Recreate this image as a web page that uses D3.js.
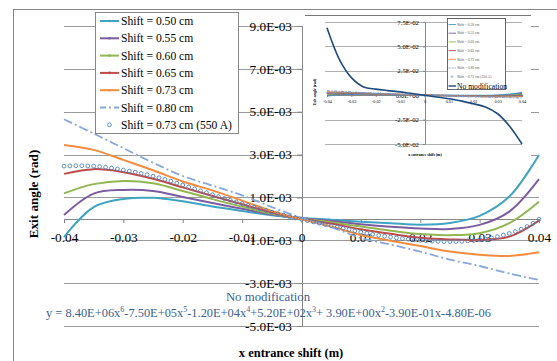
<!DOCTYPE html>
<html><head><meta charset="utf-8">
<script src="https://cdn.jsdelivr.net/npm/d3@7"></script>
<style>body{margin:0;background:#fff}svg{display:block;font-family:"Liberation Serif","Times New Roman",serif}</style>
</head><body><svg id="c" width="557" height="361"></svg>
<script>
// ---------- data (main chart values in units of 1E-03 rad) ----------
const unit = 1e-3;
const xValues = [-0.04,-0.035,-0.03,-0.025,-0.02,-0.015,-0.01,-0.005,0,0.005,0.01,0.015,0.02,0.025,0.03,0.035,0.04];
const shift050 = [-0.85,0.55,0.93,0.98,0.82,0.58,0.37,0.17,0.04,-0.04,-0.13,-0.2,-0.27,-0.19,0.14,1.04,2.98];
const shift055 = [0.18,1.18,1.35,1.3,1.02,0.74,0.47,0.2,0.03,-0.1,-0.25,-0.37,-0.45,-0.47,-0.28,0.34,1.85];
const shift060 = [1.19,1.62,1.77,1.66,1.3,0.92,0.57,0.24,0.02,-0.16,-0.36,-0.55,-0.71,-0.76,-0.67,-0.2,0.8];
const shift065 = [2.1,2.32,2.18,1.87,1.47,1.07,0.68,0.3,0.0,-0.22,-0.49,-0.7,-0.88,-0.96,-0.98,-0.83,-0.08];
const shift073 = [3.45,3.22,2.75,2.27,1.74,1.33,0.85,0.37,-0.02,-0.36,-0.75,-1.02,-1.27,-1.52,-1.67,-1.73,-1.56];
const shift080 = [4.65,3.98,3.3,2.62,2.0,1.55,1.1,0.55,0.05,-0.38,-0.9,-1.2,-1.53,-1.9,-2.2,-2.55,-2.85];
const circleXmm = [-40,-39,-38,-37,-36,-35,-34,-33,-32,-31,-30,-29,-28,-27,-26,-25,-24,-23,-22,-21,-20,-19,-18,-17,-16,-15,-14,-13,-12,-11,-10,-9,-8,-7,-6,-5,-4,-3,-2,-1,0,1,2,3,4,5,6,7,8,9,10,11,12,13,14,15,16,17,18,19,20,21,22,23,24,25,26,27,28,29,30,31,32,33,34,35,36,37,38,39,40];
const shift073A550 = [2.46,2.47,2.48,2.48,2.47,2.46,2.44,2.41,2.37,2.33,2.28,2.23,2.18,2.12,2.06,1.99,1.92,1.84,1.76,1.67,1.58,1.49,1.40,1.31,1.22,1.13,1.04,0.95,0.87,0.79,0.71,0.63,0.55,0.47,0.39,0.31,0.24,0.17,0.10,0.04,-0.02,-0.08,-0.14,-0.20,-0.26,-0.32,-0.38,-0.44,-0.50,-0.56,-0.62,-0.67,-0.72,-0.77,-0.81,-0.85,-0.89,-0.92,-0.95,-0.98,-1.00,-1.02,-1.04,-1.05,-1.06,-1.06,-1.06,-1.05,-1.03,-1.01,-0.98,-0.94,-0.89,-0.83,-0.76,-0.68,-0.59,-0.48,-0.36,-0.20,-0.02];
// inset: "No modification" (rad)
const noModification = [0.069,0.037,0.018,0.0085,0.0062,0.0047,0.0034,0.0017,0,-0.0018,-0.0036,-0.0058,-0.0088,-0.012,-0.019,-0.032,-0.05];

const seriesNames = ["Shift = 0.50 cm","Shift = 0.55 cm","Shift = 0.60 cm","Shift = 0.65 cm","Shift = 0.73 cm","Shift = 0.80 cm","Shift = 0.73 cm (550 A)"];
const seriesColors = ["#3FA3C2","#7B5CA0","#92B653","#BE4B48","#F28C3F","#88A6DA","#4F81BD"];
const insetExtraName = "No modification";
const insetExtraColor = "#1F4A7E";

const yTickValues = [-5,-3,-1,1,3,5,7,9];
const yTickLabels = ["-5.0E-03","-3.0E-03","-1.0E-03","1.0E-03","3.0E-03","5.0E-03","7.0E-03","9.0E-03"];
const xTickValues = [-0.04,-0.03,-0.02,-0.01,0,0.01,0.02,0.03,0.04];
const xTickLabels = ["-0.04","-0.03","-0.02","-0.01","0","0.01","0.02","0.03","0.04"];
const insetYTickValues = [-0.05,-0.025,0,0.025,0.05,0.075];
const insetYTickLabels = ["-5.0E-02","-2.5E-02","0.0E+00","2.5E-02","5.0E-02","7.5E-02"];

const xTitle = "x entrance shift (m)";
const yTitle = "Exit angle (rad)";
const trendName = "No modification";
const eqParts = [["y = 8.40E+06x",0],["6",1],["-7.50E+05x",0],["5",1],["-1.20E+04x",0],["4",1],["+5.20E+02x",0],["3",1],["+ 3.90E+00x",0],["2",1],["-3.90E-01x-4.80E-06",0]];

// ---------- drawing ----------
const svg = d3.select("#c");
const grey = "#868686", grid = "#9a9a9a";
const serif = '"Liberation Serif","Times New Roman",serif';

svg.append("rect").attr("x",13.5).attr("y",9.5).attr("width",700).attr("height",500)
  .attr("fill","#fff").attr("stroke",grey);

const x = d3.scaleLinear().domain([-0.04,0.04]).range([64,539]);
const y = d3.scaleLinear().domain([-5,9]).range([326,26]);

// gridlines
svg.append("g").selectAll("line").data(yTickValues).join("line")
  .attr("x1",64).attr("x2",539)
  .attr("y1",d=>Math.round(y(d))+0.5).attr("y2",d=>Math.round(y(d))+0.5)
  .attr("stroke",grid).attr("stroke-width",1);

// axes
function styleAxis(g, size){
  g.selectAll("path,line").attr("stroke",grey);
  g.selectAll("text").attr("font-family",serif).attr("font-size",size).attr("fill","#000");
}
const yAxis = svg.append("g").attr("transform",`translate(${Math.round(x(0))},0)`)
  .call(d3.axisLeft(y).tickValues(yTickValues).tickFormat((d,i)=>yTickLabels[i]).tickSize(5).tickPadding(5).tickSizeOuter(0));
styleAxis(yAxis, 13.3);
const xAxis = svg.append("g").attr("transform",`translate(0,${Math.round(y(0))})`)
  .call(d3.axisBottom(x).tickValues(xTickValues).tickFormat((d,i)=>xTickLabels[i]).tickSize(4).tickPadding(10).tickSizeOuter(0));
styleAxis(xAxis, 13.3);

// series
const lineSeries = [shift050,shift055,shift060,shift065,shift073,shift080];
const line = d3.line().x((d,i)=>x(xValues[i])).y(d=>y(d)).curve(d3.curveCatmullRom.alpha(0.5));
lineSeries.forEach((s,k)=>{
  svg.append("path").datum(s).attr("d",line).attr("fill","none")
    .attr("stroke",seriesColors[k]).attr("stroke-width",k===5?1.8:2)
    .attr("stroke-dasharray",k===5?"9,3,2,3":null);
});
svg.append("g").selectAll("circle").data(shift073A550).join("circle")
  .attr("cx",(d,i)=>x(circleXmm[i]/1000)).attr("cy",d=>y(d)).attr("r",1.9)
  .attr("fill","none").attr("stroke",seriesColors[6]).attr("stroke-width",0.9);

// legend
const lg = svg.append("g");
lg.append("rect").attr("x",95.5).attr("y",12.5).attr("width",143).attr("height",121)
  .attr("fill","#fff").attr("stroke",grey);
seriesNames.forEach((n,k)=>{
  const cy = 21 + k*17.3;
  if(k<6){
    lg.append("line").attr("x1",100).attr("x2",119).attr("y1",cy).attr("y2",cy)
      .attr("stroke",seriesColors[k]).attr("stroke-width",2).attr("stroke-dasharray",k===5?"6,3,2,3":null);
    if(k<5) lg.append("circle").attr("cx",109.5).attr("cy",cy).attr("r",1.3).attr("fill",seriesColors[k]);
  } else {
    lg.append("circle").attr("cx",109.5).attr("cy",cy).attr("r",1.9).attr("fill","none")
      .attr("stroke",seriesColors[6]).attr("stroke-width",0.9);
  }
  lg.append("text").attr("x",121).attr("y",cy).attr("dy","0.35em").attr("font-size",11.6).text(n);
});

// inset chart
const ins = svg.append("g");
ins.append("rect").attr("x",303).attr("y",15).attr("width",228).attr("height",146).attr("fill","#fff");
ins.append("line").attr("x1",305).attr("x2",531).attr("y1",15.5).attr("y2",15.5).attr("stroke","#777");
const xi = d3.scaleLinear().domain([-0.04,0.04]).range([327,522]);
const yi = d3.scaleLinear().domain([-0.05,0.075]).range([144,22]);
ins.append("g").selectAll("line").data(insetYTickValues.filter(v=>v!==0)).join("line")
  .attr("x1",325).attr("x2",522)
  .attr("y1",d=>Math.round(yi(d))+0.5).attr("y2",d=>Math.round(yi(d))+0.5)
  .attr("stroke","#b0b0b0");
const iy = ins.append("g").attr("transform",`translate(${Math.round(xi(0))},0)`)
  .call(d3.axisLeft(yi).tickValues(insetYTickValues).tickFormat((d,i)=>insetYTickLabels[i]).tickSize(2).tickPadding(4).tickSizeOuter(0));
styleAxis(iy, 6.8);
const ix = ins.append("g").attr("transform",`translate(0,${Math.round(yi(0))})`)
  .call(d3.axisBottom(xi).tickValues(xTickValues).tickFormat((d,i)=>xTickLabels[i]).tickSize(2).tickPadding(3).tickSizeOuter(0));
styleAxis(ix, 4.2);
const lineI = d3.line().x((d,i)=>xi(xValues[i])).y(d=>yi(d*unit)).curve(d3.curveCatmullRom.alpha(0.5));
lineSeries.forEach((s,k)=>{
  ins.append("path").datum(s).attr("d",lineI).attr("fill","none")
    .attr("stroke",seriesColors[k]).attr("stroke-width",1.2).attr("stroke-dasharray",k===5?"3,1.5,1,1.5":null);
});
ins.append("g").selectAll("circle").data(shift073A550).join("circle")
  .attr("cx",(d,i)=>xi(circleXmm[i]/1000)).attr("cy",d=>yi(d*unit)).attr("r",0.8)
  .attr("fill","none").attr("stroke",seriesColors[6]).attr("stroke-width",0.5);
const lineN = d3.line().x((d,i)=>xi(xValues[i])).y(d=>yi(d)).curve(d3.curveCatmullRom.alpha(0.5));
ins.append("path").datum(noModification).attr("d",lineN).attr("fill","none")
  .attr("stroke",insetExtraColor).attr("stroke-width",1.6);
ins.append("text").attr("transform","translate(316,92) rotate(-90)").attr("text-anchor","middle")
  .attr("font-size",4).attr("font-weight","bold").text(yTitle);
ins.append("text").attr("x",425).attr("y",156).attr("text-anchor","middle")
  .attr("font-size",4).attr("font-weight","bold").text(xTitle);
// inset legend
const il = ins.append("g");
il.append("rect").attr("x",447.5).attr("y",18.5).attr("width",58).attr("height",71)
  .attr("fill","#fff").attr("stroke","#666");
seriesNames.concat([insetExtraName]).forEach((n,k)=>{
  const cy = k<7 ? 24.5 + k*8.7 : 86;
  const col = k<7 ? seriesColors[k] : insetExtraColor;
  if(k===6){
    il.append("circle").attr("cx",452).attr("cy",cy).attr("r",0.9).attr("fill","none").attr("stroke",col).attr("stroke-width",0.5);
  } else {
    il.append("line").attr("x1",448.5).attr("x2",456).attr("y1",cy).attr("y2",cy)
      .attr("stroke",col).attr("stroke-width",k===7?1.4:0.9).attr("stroke-dasharray",k===5?"2,1":null);
  }
  il.append("text").attr("x",457).attr("y",cy).attr("dy","0.35em")
    .attr("font-size",k<7?3.6:7.6).attr("fill",k<7?"#555":"#000").text(n);
});

// trendline label
svg.append("text").attr("x",268).attr("y",297).attr("dy","0.35em").attr("text-anchor","middle")
  .attr("font-size",12.8).attr("fill","#3C5F8F").text(trendName);
const eq = svg.append("text").attr("x",268.5).attr("y",313).attr("dy","0.35em").attr("text-anchor","middle")
  .attr("font-size",12.4).attr("fill","#3C5F8F");
eqParts.forEach(([t,sup],i)=>{
  const prevSup = i>0 && eqParts[i-1][1];
  eq.append("tspan").attr("font-size",sup?8:12.4)
    .attr("dy",sup?-5:(prevSup?5:null)).text(t);
});

// axis titles
svg.append("text").attr("x",291).attr("y",353).attr("dy","0.35em").attr("text-anchor","middle")
  .attr("font-size",12.5).attr("font-weight","bold").text(xTitle);
svg.append("text").attr("transform","translate(33,194) rotate(-90)").attr("dy","0.35em").attr("text-anchor","middle")
  .attr("font-size",13.2).attr("font-weight","bold").text(yTitle);
</script></body></html>
